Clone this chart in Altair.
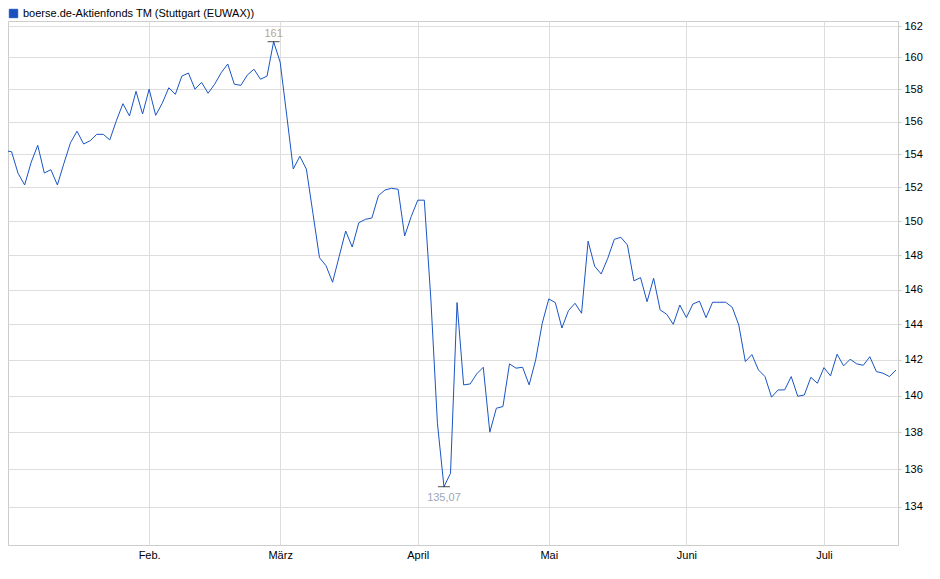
import altair as alt
import pandas as pd

series_name = "boerse.de-Aktienfonds TM (Stuttgart (EUWAX))"

# daily closing prices (trading days, Jan - mid July)
prices = [
    154.22, 154.16, 152.85, 152.15, 153.52, 154.55, 152.87, 153.07, 152.15, 153.46,
    154.71, 155.41, 154.63, 154.83, 155.22, 155.22, 154.88, 156.06, 157.11, 156.35,
    157.88, 156.47, 158.01, 156.39, 157.13, 158.10, 157.69, 158.83, 159.02, 158.01,
    158.44, 157.76, 158.32, 159.04, 159.59, 158.32, 158.25, 158.90, 159.26, 158.63,
    158.83, 161.00, 159.70, 156.40, 153.11, 153.88, 153.11, 150.46, 147.85, 147.38,
    146.42, 147.91, 149.41, 148.47, 149.90, 150.10, 150.18, 151.51, 151.85, 151.95,
    151.89, 149.12, 150.26, 151.24, 151.24, 145.45, 138.50, 135.07, 135.79, 145.25,
    140.61, 140.66, 141.22, 141.59, 138.01, 139.32, 139.41, 141.78, 141.54, 141.59,
    140.61, 142.00, 144.07, 145.46, 145.25, 143.80, 144.79, 145.21, 144.64, 148.81,
    147.35, 146.90, 147.81, 148.92, 149.04, 148.59, 146.50, 146.69, 145.30, 146.65,
    144.83, 144.58, 144.01, 145.11, 144.39, 145.17, 145.33, 144.39, 145.27, 145.27,
    145.27, 144.98, 143.97, 141.91, 142.30, 141.44, 141.07, 139.93, 140.33, 140.33,
    141.07, 139.98, 140.05, 141.03, 140.70, 141.57, 141.11, 142.32, 141.67, 142.04,
    141.78, 141.70, 142.18, 141.35, 141.26, 141.07, 141.44,
]

# first trading day of each month (index into prices) and its label
month_start_index = [22, 42, 63, 83, 104, 125]
month_labels = ["Feb.", "März", "April", "Mai", "Juni", "Juli"]

y_ticks = list(range(134, 163, 2))

FONT = "Liberation Sans"
LINE_BLUE = "#1a55c4"

df = pd.DataFrame({
    "i": list(range(len(prices))),
    "price": prices,
    "series": series_name,
})


def de_fmt(v):
    s = f"{v:.2f}".rstrip("0").rstrip(".")
    return s.replace(".", ",")


imax = int(df["price"].idxmax())
imin = int(df["price"].idxmin())
hi = pd.DataFrame({"i": [imax], "price": [prices[imax]], "label": [de_fmt(prices[imax])]})
lo = pd.DataFrame({"i": [imin], "price": [prices[imin]], "label": [de_fmt(prices[imin])]})

label_expr = "[{}][indexof([{}], datum.value)]".format(
    ",".join("'" + m + "'" for m in month_labels),
    ",".join(str(v) for v in month_start_index),
)

x_enc = alt.X(
    "i:Q",
    scale=alt.Scale(domain=[0.46, 136.3], nice=False, zero=False),
    axis=alt.Axis(
        values=month_start_index,
        labelExpr=label_expr,
        title=None,
        grid=True,
        gridColor="#dddddd",
        ticks=False,
        domain=False,
        labelFont=FONT,
        labelFontSize=11,
        labelColor="#000000",
        labelPadding=4,
    ),
)
y_enc = alt.Y(
    "price:Q",
    scale=alt.Scale(type="log", domain=[132, 162.32], nice=False, zero=False),
    axis=alt.Axis(
        orient="right",
        values=y_ticks,
        format="d",
        title=None,
        grid=True,
        gridColor="#dddddd",
        tickColor="#cccccc",
        tickSize=3,
        domainColor="#cccccc",
        labelFont=FONT,
        labelFontSize=11,
        labelColor="#000000",
        labelPadding=3,
    ),
)

line = alt.Chart(df).mark_line(strokeWidth=1, clip=True).encode(
    x=x_enc,
    y=y_enc,
    color=alt.Color(
        "series:N",
        scale=alt.Scale(range=[LINE_BLUE]),
        legend=alt.Legend(
            title=None,
            orient="none",
            legendX=0,
            legendY=-13,
            symbolType="square",
            symbolSize=70,
            symbolFillColor="#1a4fc0",
            symbolStrokeColor="#0b2a6e",
            symbolStrokeWidth=1,
            labelFont=FONT,
            labelFontSize=11,
            labelColor="#000000",
            labelOffset=4,
            labelLimit=600,
            padding=0,
        ),
    ),
)

hi_tick = alt.Chart(hi).mark_tick(orient="horizontal", size=12, thickness=1, color="#000000").encode(
    x="i:Q", y="price:Q"
)
lo_tick = alt.Chart(lo).mark_tick(orient="horizontal", size=12, thickness=1, color="#000000").encode(
    x="i:Q", y="price:Q"
)
hi_text = alt.Chart(hi).mark_text(
    dy=-5, baseline="alphabetic", font=FONT, fontSize=11, color="#b8a690"
).encode(x="i:Q", y="price:Q", text="label:N")
lo_text = alt.Chart(lo).mark_text(
    dy=5, baseline="top", font=FONT, fontSize=11, color="#9ea7b8"
).encode(x="i:Q", y="price:Q", text="label:N")

chart = (
    alt.layer(line, hi_tick, lo_tick, hi_text, lo_text)
    .properties(
        width=890,
        height=524,
        autosize=alt.AutoSizeParams(type="none"),
        padding={"left": 0, "top": 13, "right": 30, "bottom": 20},
        background="#ffffff",
    )
    .configure_view(stroke="#cccccc", strokeWidth=1)
)

chart.save("out.html", embed_options={"renderer": "svg", "actions": False})
